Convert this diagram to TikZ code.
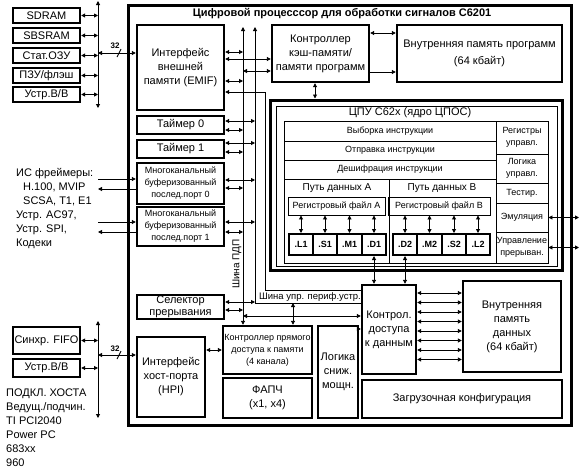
\documentclass[tikz,border=0pt]{standalone}
\usepackage{fontspec}
\setmainfont{Liberation Sans}
\usetikzlibrary{arrows.meta}
\newcommand{\myfA}{\fontsize{11}{14}\selectfont}
\newcommand{\myfAs}{\fontsize{11}{12}\selectfont}
\newcommand{\myfB}{\fontsize{9}{12}\selectfont}
\newcommand{\myfBb}{\fontsize{9}{11}\selectfont\bfseries}
\newcommand{\myfT}{\fontsize{11}{12}\selectfont\bfseries}
\newcommand{\myfS}{\fontsize{8}{9}\selectfont\bfseries}
\newcommand{\myfP}{\fontsize{10}{12}\selectfont}
\newcommand{\RN}[7]{\node[#1, minimum width={(#5-#3)*1pt}, minimum height={(#6-#4)*1pt}] (#2) at ({(#3+#5)/2},{(#4+#6)/2}) {#7};}
\begin{document}
\begin{tikzpicture}[x=1pt,y=-1pt,
  bx/.style={draw, line width=2.4pt, inner sep=0pt, align=center, font=\myfA},
  tb/.style={draw, line width=0.9pt, inner sep=0pt, align=center, font=\myfB},
  ub/.style={draw, line width=2pt, inner sep=0pt, align=center, font=\myfBb},
  ln/.style={line width=0.9pt},
  dar/.style={ln, {Triangle[length=4pt,width=4pt]}-{Triangle[length=4pt,width=4pt]}},
  ar/.style={ln, -{Triangle[length=4pt,width=4pt]}},
  ra/.style={ln, {Triangle[length=4pt,width=4pt]}-},
  lbl/.style={inner sep=0pt, font=\myfA}]
\fill[white] (0,0) rectangle (580,469);
\useasboundingbox (0,0) rectangle (580,469);

% external devices
\RN{bx}{sdram}{13}{8}{80}{23}{SDRAM}
\RN{bx}{sbsram}{13}{28}{80}{43}{SBSRAM}
\RN{bx}{sram}{13}{48}{80}{63}{Стат.ОЗУ}
\RN{bx}{rom}{13}{68}{80}{83}{ПЗУ/флэш}
\RN{bx}{ioa}{13}{87}{80}{102}{Устр.В/В}
\RN{bx}{fifo}{13}{327}{80}{354}{Синхр. FIFO}
\RN{bx}{iob}{13}{359}{80}{377}{Устр.В/В}

% chip
\RN{draw, line width=3pt}{chip}{128}{5}{571}{425}{}
\node[inner sep=0pt, font=\myfT] (title) at (342,14) {Цифровой процесссор для обработки сигналов C6201};

\RN{bx}{emif}{137}{25}{224}{110}{Интерфейс\\внешней\\памяти (EMIF)}
\RN{bx}{tim0}{137}{116}{224}{134}{Таймер 0}
\RN{bx}{tim1}{137}{140}{224}{158}{Таймер 1}
\RN{bx, font=\myfB}{mcbsp0}{137}{163}{224}{204}{Многоканальный\\буферизованный\\послед.порт 0}
\RN{bx, font=\myfB}{mcbsp1}{137}{207}{224}{246}{Многоканальный\\буферизованный\\послед.порт 1}
\RN{bx, font=\myfAs}{sel}{137}{295}{224}{319}{Селектор\\прерывания}
\RN{bx}{hpi}{137}{337}{205}{417}{Интерфейс\\хост-порта\\(HPI)}
\RN{bx, font=\myfB}{dma}{223}{326}{312}{374}{Контроллер прямого\\доступа к памяти\\(4 канала)}
\RN{bx}{pll}{223}{378}{312}{418}{ФАПЧ\\(x1, x4)}
\RN{bx}{pwr}{318}{326}{358}{418}{Логика\\сниж.\\мощн.}
\RN{bx}{dmc}{362}{285}{416}{374}{Контрол.\\доступа\\к данным}
\RN{bx}{dmem}{463}{281}{561}{372}{Внутренняя\\память\\данных\\(64 кбайт)}
\RN{bx}{boot}{362}{380}{562}{418}{Загрузочная конфигурация}
\RN{bx}{cache}{272}{25}{369}{82}{Контроллер\\кэш-памяти/\\памяти программ}
\RN{bx}{pmem}{397}{25}{562}{82}{Внутренняя память программ\\[3pt](64 кбайт)}

% CPU
\RN{draw, line width=3pt}{cpuo}{270}{100}{562}{270}{}
\RN{draw, line width=1pt}{cpui}{276}{106}{557}{266}{}
\node[lbl] (cpul) at (410,113) {ЦПУ C62x (ядро ЦПОС)};
\RN{tb}{fetch}{284}{121}{496}{141}{Выборка инструкции}
\RN{tb}{disp}{284}{141}{496}{160}{Отправка инструкции}
\RN{tb}{dec}{284}{160}{496}{179}{Дешифрация инструкции}
\RN{tb}{pathA}{284}{179}{389}{263}{}
\RN{tb}{pathB}{389}{179}{496}{263}{}
\node[inner sep=0pt, font=\myfP] (pathAl) at (337,188) {Путь данных A};
\node[inner sep=0pt, font=\myfP] (pathBl) at (442,188) {Путь данных B};
\RN{tb}{rfA}{288}{197}{385}{215}{Регистровый файл A}
\RN{tb}{rfB}{388}{197}{490}{215}{Регистровый файл B}
\RN{tb}{creg}{496}{121}{548}{154}{Регистры\\управл.}
\RN{tb}{clog}{496}{154}{548}{183}{Логика\\управл.}
\RN{tb}{test}{496}{183}{548}{203}{Тестир.}
\RN{tb}{emu}{496}{203}{548}{232}{Эмуляция}
\RN{tb}{intc}{496}{232}{548}{263}{Управление\\прерыван.}
\RN{ub}{L1}{289}{234}{313}{255}{.L1}
\RN{ub}{S1}{313}{234}{337}{255}{.S1}
\RN{ub}{M1}{337}{234}{362}{255}{.M1}
\RN{ub}{D1}{362}{234}{386}{255}{.D1}
\RN{ub}{D2}{393}{234}{417}{255}{.D2}
\RN{ub}{M2}{417}{234}{442}{255}{.M2}
\RN{ub}{S2}{442}{234}{466}{255}{.S2}
\RN{ub}{L2}{466}{234}{490}{255}{.L2}

% texts
\node[anchor=base west, inner sep=0pt, align=left, font=\myfA] (framers) at (16,246)
  {ИС фреймеры:\\\hspace*{7pt}H.100, MVIP\\\hspace*{7pt}SCSA, T1, E1\\Устр. AC97,\\Устр. SPI,\\Кодеки};
\node[anchor=base west, inner sep=0pt, align=left, font=\myfA] (host) at (6,466)
  {ПОДКЛ. ХОСТА\\Ведущ./подчин.\\TI PCI2040\\Power PC\\683xx\\960};
\node[inner sep=0pt, font=\myfP, rotate=90] (dmabusl) at (237,264) {Шина ПДП};
\node[inner sep=0pt, font=\fontsize{9.5}{11}\selectfont] (pbusl) at (310,297) {Шина упр. периф.устр.};

% left buses
\coordinate (lbT) at (98,1);
\coordinate (lbB) at (98,108);
\draw[dar] (lbB) -- (lbT);
\foreach \n in {sdram,sbsram,sram,rom,ioa} \draw[dar] (\n) -- (\n -| lbT);
\draw[dar] (lbT |- 0,53) -- (emif.west |- 0,53);
\draw[ln] (117,57) -- (121,49);
\node[inner sep=0pt, font=\myfS] (n32a) at (115,46) {32};

\coordinate (lb2T) at (98,321);
\coordinate (lb2B) at (98,418);
\draw[dar] (lb2B) -- (lb2T);
\foreach \n in {fifo,iob} \draw[dar] (\n) -- (\n -| lb2T);
\draw[dar] (lb2T |- 0,355) -- (hpi.west |- 0,355);
\draw[ln] (117,359) -- (121,351);
\node[inner sep=0pt, font=\myfS] (n32b) at (115,349) {32};

\draw[ar] (lbT |- 0,179) -- (mcbsp0.west |- 0,179);
\draw[ar] (mcbsp0.west |- 0,189) -- (lbT |- 0,189);
\draw[ar] (lbT |- 0,222) -- (mcbsp1.west |- 0,222);
\draw[ar] (mcbsp1.west |- 0,232) -- (lbT |- 0,232);

% internal buses
\coordinate (dbT) at (243,27);
\coordinate (pbT) at (255,27);
\draw[dar] (dbT) -- (dbT |- dma.north);
\draw[ra] (pbT) -- (pbT |- 0,303) -- (dmc.west |- 0,303);

\draw[dar] (emif.east |- 0,52) -- (dbT |- 0,52);
\draw[dar] (emif.east |- 0,59) -- (cache.west |- 0,59);
\draw[dar] (dbT |- 0,71) -- (cache.west |- 0,71);
\draw[dar] (emif.east |- 0,81) -- (dbT |- 0,81);
\coordinate (ebus) at (265,92);
\draw[ra] (emif.east |- ebus) -- (ebus) -- (ebus |- 0,290) -- (dmc.west |- 0,290);

\foreach \n/\a/\b in {tim0/121/130, tim1/143/152, mcbsp0/180/188, mcbsp1/222/232, sel/302/310} {
  \draw[dar] (\n.east |- 0,\a) -- (pbT |- 0,\a);
  \draw[dar] (\n.east |- 0,\b) -- (dbT |- 0,\b);
}

\coordinate (dp) at (293,303);
\draw[dar] (dp) -- (dp |- dma.north);
\draw[dar] (dbT |- 0,316) -- (dmc.west |- 0,316);
\draw[dar] (hpi.east |- 0,350) -- (dma.west |- 0,350);
\draw[ar] (pwr.east |- 0,329) -- (dmc.west |- 0,329);

\foreach \y in {293,302.5,312,321.5,331,340.5,350,359.5}
  \draw[dar] (dmc.east |- 0,\y) -- (dmem.west |- 0,\y);

\draw[dar] (cache.east |- 0,33) -- (pmem.west |- 0,33);
\draw[ar] (cache.east |- 0,72) -- (pmem.west |- 0,72);
\draw[dar] (cache.south -| 315,0) -- (cpuo.north -| 315,0);

\draw[dar] (D1.south) -- (D1.south |- dmc.north);
\draw[dar] (D2.south) -- (D2.south |- dmc.north);
\foreach \u in {L1,S1,M1,D1} \draw[dar] (\u.north |- rfA.south) -- (\u.north);
\foreach \u in {D2,M2,S2,L2} \draw[dar] (\u.north |- rfB.south) -- (\u.north);

\coordinate (rx) at (579,0);
\draw[dar] (emu.east) -- (emu.east -| rx);
\draw[dar] (intc.east) -- (intc.east -| rx);
\end{tikzpicture}
\end{document}
